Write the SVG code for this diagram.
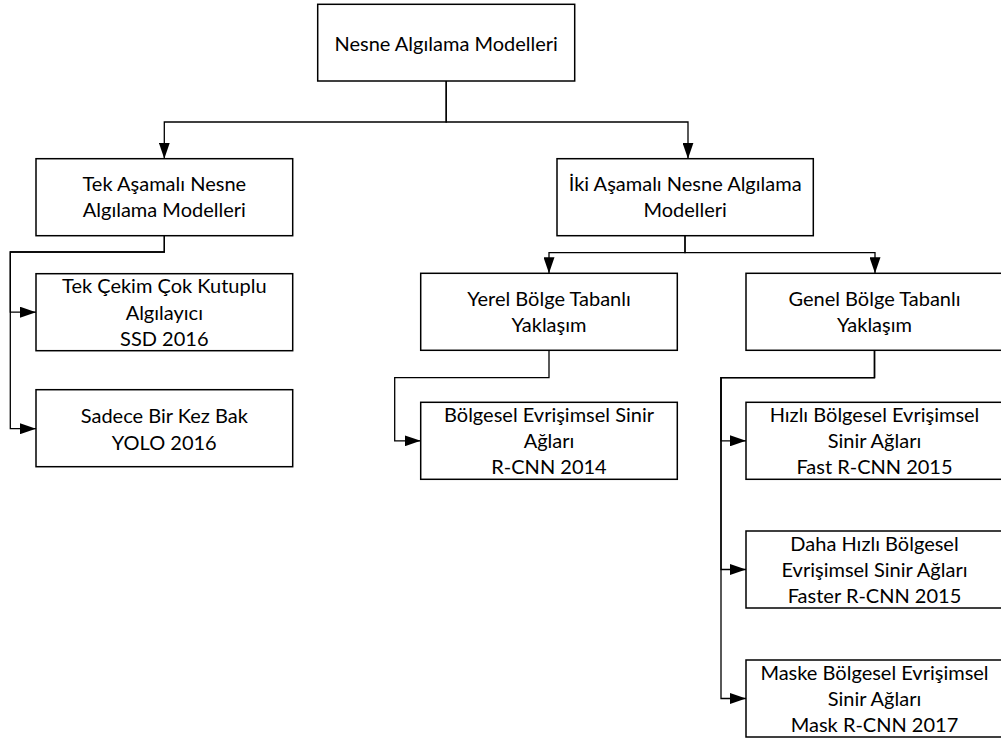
<svg xmlns="http://www.w3.org/2000/svg" width="1001" height="738" viewBox="0 0 1001 738">
<style>
.box{fill:#fff;stroke:#000;stroke-width:1.5}
.lbl{font-family:Lato,"Liberation Sans",sans-serif;font-size:20px;fill:#000;text-anchor:middle}
.con{fill:none;stroke:#000;stroke-width:1.3}
</style>
<defs>
<marker id="ah" markerUnits="userSpaceOnUse" markerWidth="16" markerHeight="11" refX="16" refY="5.5" orient="auto">
<path d="M0,0 L16,5.5 L0,11 Z" fill="#000"/>
</marker>
</defs>
<rect width="1001" height="738" fill="#fff"/>
<g id="connectors">
<path class="con" marker-end="url(#ah)" d="M446.2,81 V122 H164.3 V158.7"/>
<path class="con" marker-end="url(#ah)" d="M446.2,81 V122 H688 V158.7"/>
<path class="con" marker-end="url(#ah)" d="M164.3,235.7 V252 H10.3 V312.2 H36"/>
<path class="con" marker-end="url(#ah)" d="M164.3,235.7 V252 H10.3 V428.7 H36"/>
<path class="con" marker-end="url(#ah)" d="M685,235.7 V252.7 H549 V273.3"/>
<path class="con" marker-end="url(#ah)" d="M685,235.7 V252.7 H875 V273.3"/>
<path class="con" marker-end="url(#ah)" d="M549,350.3 V377.7 H394.7 V440.8 H420.7"/>
<path class="con" marker-end="url(#ah)" d="M874.5,350.3 V377.7 H721 V440.8 H746"/>
<path class="con" marker-end="url(#ah)" d="M874.5,350.3 V377.7 H721 V569.5 H746"/>
<path class="con" marker-end="url(#ah)" d="M874.5,350.3 V377.7 H721 V698.5 H746"/>
</g>
<g id="n-nesne">
<rect class="box" x="317.7" y="4.3" width="257" height="76.7"/>
<text class="lbl" x="446.2" y="50.7">Nesne Algılama Modelleri</text>
</g>
<g id="n-tek">
<rect class="box" x="36" y="158.7" width="256.7" height="77"/>
<text class="lbl" x="164.3" y="191">Tek Aşamalı Nesne</text>
<text class="lbl" x="164.3" y="217.3">Algılama Modelleri</text>
</g>
<g id="n-iki">
<rect class="box" x="557" y="158.7" width="256.3" height="77"/>
<text class="lbl" x="685.2" y="191">İki Aşamalı Nesne Algılama</text>
<text class="lbl" x="685.2" y="217.3">Modelleri</text>
</g>
<g id="n-ssd">
<rect class="box" x="36" y="273.7" width="256.7" height="77"/>
<text class="lbl" x="164.3" y="293.3">Tek Çekim Çok Kutuplu</text>
<text class="lbl" x="164.3" y="319.5">Algılayıcı</text>
<text class="lbl" x="164.3" y="345.7">SSD 2016</text>
</g>
<g id="n-yolo">
<rect class="box" x="36" y="389.7" width="256.7" height="77"/>
<text class="lbl" x="164.3" y="423.3">Sadece Bir Kez Bak</text>
<text class="lbl" x="164.3" y="449.6">YOLO 2016</text>
</g>
<g id="n-yerel">
<rect class="box" x="420.7" y="273.3" width="256.6" height="77"/>
<text class="lbl" x="549" y="305.6">Yerel Bölge Tabanlı</text>
<text class="lbl" x="549" y="331.9">Yaklaşım</text>
</g>
<g id="n-genel">
<rect class="box" x="746" y="273.3" width="258" height="77"/>
<text class="lbl" x="874.5" y="305.6">Genel Bölge Tabanlı</text>
<text class="lbl" x="874.5" y="331.9">Yaklaşım</text>
</g>
<g id="n-rcnn">
<rect class="box" x="420.7" y="402.3" width="256.6" height="77"/>
<text class="lbl" x="549" y="421.9">Bölgesel Evrişimsel Sinir</text>
<text class="lbl" x="549" y="448.1">Ağları</text>
<text class="lbl" x="549" y="474.3">R-CNN 2014</text>
</g>
<g id="n-fast">
<rect class="box" x="746" y="402.3" width="258" height="77"/>
<text class="lbl" x="874.5" y="421.9">Hızlı Bölgesel Evrişimsel</text>
<text class="lbl" x="874.5" y="448.1">Sinir Ağları</text>
<text class="lbl" x="874.5" y="474.3">Fast R-CNN 2015</text>
</g>
<g id="n-faster">
<rect class="box" x="746" y="531" width="258" height="77"/>
<text class="lbl" x="874.5" y="550.6">Daha Hızlı Bölgesel</text>
<text class="lbl" x="874.5" y="576.8">Evrişimsel Sinir Ağları</text>
<text class="lbl" x="874.5" y="603">Faster R-CNN 2015</text>
</g>
<g id="n-mask">
<rect class="box" x="746" y="660" width="258" height="77"/>
<text class="lbl" x="874.5" y="679.6">Maske Bölgesel Evrişimsel</text>
<text class="lbl" x="874.5" y="705.8">Sinir Ağları</text>
<text class="lbl" x="874.5" y="732">Mask R-CNN 2017</text>
</g>
</svg>
